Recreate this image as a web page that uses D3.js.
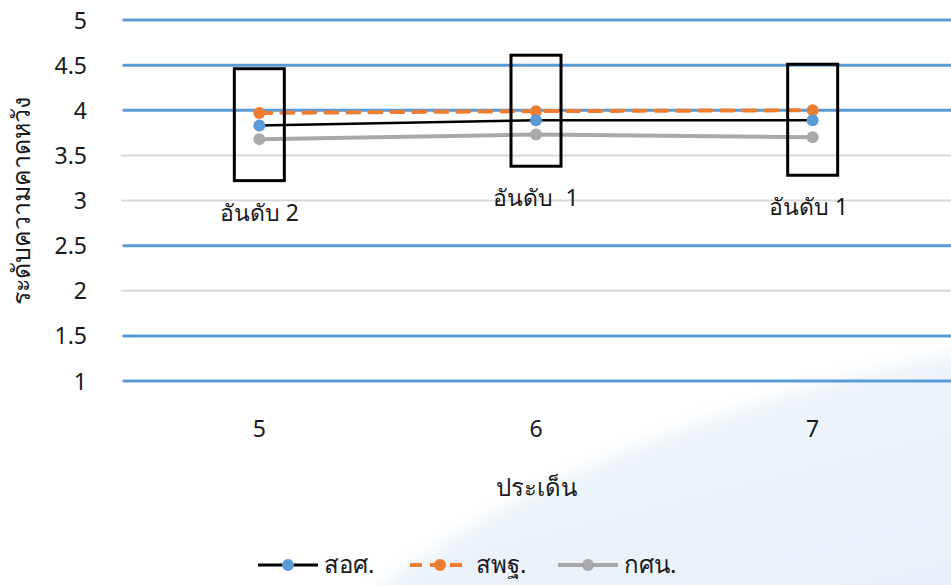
<!DOCTYPE html>
<html>
<head>
<meta charset="utf-8">
<script src="https://cdn.jsdelivr.net/npm/d3@7"></script>
<style>
  html, body { margin: 0; padding: 0; background: #fff; }
  svg text { font-family: "Noto Sans", "DejaVu Sans", sans-serif; fill: #1a1a1a; }
</style>
</head>
<body>
<div id="chart"></div>
<script>
// CATEGORIES + SERIES
var categories = ['5', '6', '7'];
var seriesNames = ['สอศ.', 'สพฐ.', 'กศน.'];
var vocational = [3.83, 3.89, 3.89];
var basic = [3.97, 3.99, 4.00];
var nonformal = [3.68, 3.73, 3.70];

// Y TICKS + THE ONES HIGHLIGHTED IN BLUE
var yTicks = [1, 1.5, 2, 2.5, 3, 3.5, 4, 4.5, 5];
var blueLevels = [1, 1.5, 2.5, 4, 4.5, 5];

// RANK BOXES (TOP / BOTTOM IN AXIS UNITS) + LABELS
var boxTop = [4.46, 4.61, 4.51];
var boxBottom = [3.22, 3.38, 3.28];
var rankLabels = ['อันดับ 2', 'อันดับ  1', 'อันดับ 1'];

var width = 951, height = 585;
var plot = { left: 121, right: 951, top: 20, bottom: 381 };

var svg = d3.select('#chart').append('svg')
   .attr('width', width)
   .attr('height', height);

// BACKGROUND SWOOSH (VERY FAINT, SOFT EDGE)
var defs = svg.append('defs');
var grad = defs.append('linearGradient')
   .attr('id', 'swoosh')
   .attr('x1', 0).attr('y1', 0).attr('x2', 0.6).attr('y2', 1);
grad.append('stop').attr('offset', '0%').attr('stop-color', '#f1f6fb');
grad.append('stop').attr('offset', '100%').attr('stop-color', '#e8f1f9');

defs.append('filter')
   .attr('id', 'soft')
   .attr('x', '-20%').attr('y', '-20%').attr('width', '140%').attr('height', '140%')
   .append('feGaussianBlur')
      .attr('stdDeviation', 10);

svg.append('rect').attr('width', width).attr('height', height).attr('fill', '#fff');
svg.append('path')
   .attr('d', 'M340,620 C480,500 700,400 1000,345 L1000,620 Z')
   .attr('fill', 'url(#swoosh)')
   .attr('filter', 'url(#soft)');

// SCALES
var x = d3.scaleBand()
   .domain(categories)
   .range([plot.left, plot.right]);

var y = d3.scaleLinear()
   .domain([1, 5])
   .range([plot.bottom, plot.top]);

var cx = (d) => x(d) + x.bandwidth() / 2;

// GRIDLINES
svg.append('g').selectAll('line')
   .data(yTicks)
   .enter().append('line')
      .attr('x1', plot.left).attr('x2', plot.right)
      .attr('y1', (d) => y(d)).attr('y2', (d) => y(d))
      .attr('stroke', '#d9d9d9')
      .attr('stroke-width', 2);

svg.append('g').selectAll('line')
   .data(blueLevels)
   .enter().append('line')
      .attr('x1', plot.left + 2).attr('x2', plot.right)
      .attr('y1', (d) => y(d)).attr('y2', (d) => y(d))
      .attr('stroke', '#5b9bd5')
      .attr('stroke-width', 3);

// Y AXIS
var yAxis = svg.append('g')
   .attr('transform', 'translate(' + (plot.left - 34) + ',0)')
   .call(d3.axisLeft(y).tickValues(yTicks).tickSize(0).tickPadding(0).tickFormat(d3.format('')));
yAxis.select('.domain').remove();
yAxis.selectAll('text').style('font-size', '23px').attr('dy', '0.35em');

// X AXIS
var xAxis = svg.append('g')
   .attr('transform', 'translate(0,' + (plot.bottom + 40) + ')')
   .call(d3.axisBottom(x).tickSize(0).tickPadding(0));
xAxis.select('.domain').remove();
xAxis.selectAll('text').style('font-size', '23px');

// AXIS TITLES
svg.append('text')
   .attr('transform', 'translate(30,' + ((plot.top + plot.bottom) / 2) + ') rotate(-90)')
   .attr('text-anchor', 'middle')
   .style('font-size', '25px')
   .text('ระดับความคาดหวัง');

svg.append('text')
   .attr('x', cx('6'))
   .attr('y', 496)
   .attr('text-anchor', 'middle')
   .style('font-size', '24px')
   .text('ประเด็น');

// SERIES
var series = [
   { name: seriesNames[1], values: basic, line: '#ed7d31', dot: '#ed7d31', width: 4, dash: '12,10' },
   { name: seriesNames[2], values: nonformal, line: '#a9a9a9', dot: '#a9a9a9', width: 4, dash: null },
   { name: seriesNames[0], values: vocational, line: '#000', dot: '#5b9bd5', width: 2.5, dash: null }
];

var pathify = d3.line()
   .x((d, i) => cx(categories[i]))
   .y((d) => y(d));

series.forEach((s) => {
   svg.append('path')
      .attr('fill', 'none')
      .attr('stroke', s.line)
      .attr('stroke-width', s.width)
      .attr('stroke-dasharray', s.dash)
      .attr('stroke-linecap', 'round')
      .attr('d', pathify(s.values));
});

series.forEach((s) => {
   svg.append('g').selectAll('circle')
      .data(s.values)
      .enter().append('circle')
         .attr('cx', (d, i) => cx(categories[i]))
         .attr('cy', (d) => y(d))
         .attr('r', 6)
         .attr('fill', s.dot);
});

// RANK BOXES
svg.append('g').selectAll('rect')
   .data(categories)
   .enter().append('rect')
      .attr('x', (d) => cx(d) - 25)
      .attr('y', (d, i) => y(boxTop[i]))
      .attr('width', 50)
      .attr('height', (d, i) => y(boxBottom[i]) - y(boxTop[i]))
      .attr('fill', 'none')
      .attr('stroke', '#000')
      .attr('stroke-width', 3);

svg.append('g').selectAll('text')
   .data(categories)
   .enter().append('text')
      .attr('x', (d, i) => cx(d) + (i === 2 ? -4 : 0))
      .attr('y', (d, i) => y(boxBottom[i]) + 40)
      .attr('text-anchor', 'middle')
      .style('font-size', '23px')
      .style('white-space', 'pre')
      .text((d, i) => rankLabels[i]);

// LEGEND
var legendItems = [
   { name: seriesNames[0], line: '#000', dot: '#5b9bd5', dash: null, w: 3, x: 258 },
   { name: seriesNames[1], line: '#ed7d31', dot: '#ed7d31', dash: '12,8', w: 4, x: 410 },
   { name: seriesNames[2], line: '#a9a9a9', dot: '#a9a9a9', dash: null, w: 4, x: 558 }
];

var legend = svg.append('g').attr('transform', 'translate(0,565)');
legendItems.forEach((l) => {
   legend.append('line')
      .attr('x1', l.x).attr('x2', l.x + 60)
      .attr('stroke', l.line)
      .attr('stroke-width', l.w)
      .attr('stroke-dasharray', l.dash);
   legend.append('circle')
      .attr('cx', l.x + 30)
      .attr('r', 6)
      .attr('fill', l.dot);
   legend.append('text')
      .attr('x', l.x + 66)
      .attr('dy', '0.35em')
      .style('font-size', '24px')
      .text(l.name);
});
</script>
</body>
</html>
